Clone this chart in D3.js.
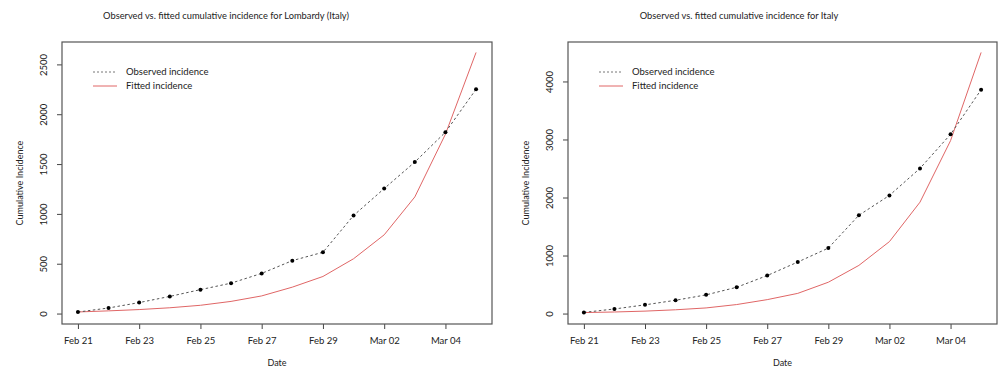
<!DOCTYPE html>
<html>
<head>
<meta charset="utf-8">
<script src="https://cdn.jsdelivr.net/npm/d3@7"></script>
<style>
  body { margin: 0; background: #fff; }
  text { font-family: Lato, "Open Sans", sans-serif; fill: #222; }
</style>
</head>
<body>
<div id="canvas"></div>
<script>
// -------------------------------------------- Data
const dates = ["2020-02-21", "2020-02-22", "2020-02-23", "2020-02-24", "2020-02-25",
  "2020-02-26", "2020-02-27", "2020-02-28", "2020-02-29", "2020-03-01",
  "2020-03-02", "2020-03-03", "2020-03-04", "2020-03-05"];
const tickDates = ["2020-02-21", "2020-02-23", "2020-02-25", "2020-02-27",
  "2020-02-29", "2020-03-02", "2020-03-04"];

const lombardyObserved = [15, 56, 110, 172, 240, 305, 403, 531, 615, 984, 1254, 1520, 1820, 2251];
const lombardyFitted = [16, 27, 40, 58, 83, 122, 177, 265, 372, 550, 790, 1170, 1800, 2620];
const lombardyTicks = [0, 500, 1000, 1500, 2000, 2500];

const italyObserved = [20, 79, 150, 229, 322, 453, 655, 888, 1128, 1694, 2036, 2502, 3089, 3858];
const italyFitted = [17, 27, 42, 65, 97, 155, 240, 348, 540, 830, 1240, 1920, 2980, 4500];
const italyTicks = [0, 1000, 2000, 3000, 4000];

const legendLabels = ["Observed incidence", "Fitted incidence"];

// -------------------------------------------- Lienzo
const width = 1000;
const height = 370;
const parse = d3.timeParse("%Y-%m-%d");

const svg = d3.select("#canvas").append("svg")
  .attr("width", width)
  .attr("height", height);

// ----- one panel, R base graphics look
function panel(opts) {
  const { left, right, top, bottom, observed, fitted, yTicks, title, titleX } = opts;
  const days = dates.map(parse);

  // 4% padding like R
  const x0 = days[0], x1 = days[days.length - 1];
  const span = x1 - x0;
  const x = d3.scaleTime()
    .domain([new Date(+x0 - span * 0.04), new Date(+x1 + span * 0.04)])
    .range([left, right]);

  const ymax = d3.max(observed.concat(fitted));
  const y = d3.scaleLinear()
    .domain([-ymax * 0.04, ymax * 1.04])
    .range([bottom, top]);

  const g = svg.append("g");

  // -- Eje X
  g.append("g")
    .attr("transform", `translate(0,${bottom})`)
    .call(d3.axisBottom(x)
      .tickValues(tickDates.map(parse))
      .tickFormat(d3.timeFormat("%b %d"))
      .tickSizeOuter(0)
      .tickSize(5)
      .tickPadding(8))
    .call(a => a.select(".domain").remove())
    .call(a => a.selectAll("line").attr("stroke", "#444"))
    .call(a => a.selectAll("text").style("font-size", "9.5px").attr("fill", "#222"));

  // -- Eje Y (rotated labels)
  const ya = g.append("g")
    .attr("transform", `translate(${left},0)`)
    .call(d3.axisLeft(y).tickValues(yTicks).tickSize(5).tickFormat(d3.format("d")))
    .call(a => a.select(".domain").remove())
    .call(a => a.selectAll("line").attr("stroke", "#444"));
  ya.selectAll("text")
    .attr("x", null).attr("dy", null)
    .attr("transform", "translate(-15,0) rotate(-90)")
    .attr("text-anchor", "middle")
    .style("font-size", "9.5px")
    .attr("fill", "#222");

  // -- box
  g.append("rect")
    .attr("x", left).attr("y", top)
    .attr("width", right - left).attr("height", bottom - top)
    .attr("fill", "none").attr("stroke", "#555").attr("stroke-width", 1.2);

  // -- fitted
  const line = d3.line().x((d, i) => x(days[i])).y(d => y(d));
  g.append("path")
    .datum(fitted)
    .attr("d", line)
    .attr("fill", "none")
    .attr("stroke", "#e06666")
    .attr("stroke-width", 1);

  // -- observed
  g.append("path")
    .datum(observed)
    .attr("d", line)
    .attr("fill", "none")
    .attr("stroke", "#555")
    .attr("stroke-width", 1)
    .attr("stroke-dasharray", "2.5,2.5");

  g.selectAll(".pt").data(observed).enter()
    .append("circle")
    .attr("class", "pt")
    .attr("cx", (d, i) => x(days[i]))
    .attr("cy", d => y(d))
    .attr("r", 2)
    .attr("fill", "#000");

  // -- legend
  const lg = g.append("g").attr("transform", `translate(${left + 31},${top + 30})`);
  lg.append("line").attr("x1", 0).attr("x2", 24).attr("y1", 0).attr("y2", 0)
    .attr("stroke", "#777").attr("stroke-dasharray", "2,2");
  lg.append("line").attr("x1", 0).attr("x2", 24).attr("y1", 14).attr("y2", 14)
    .attr("stroke", "#e06666");
  lg.selectAll(".lt").data(legendLabels).enter()
    .append("text")
    .attr("x", 33)
    .attr("y", (d, i) => i * 14)
    .attr("dy", "0.35em")
    .style("font-size", "9.5px")
    .text(d => d);

  // -- titulos
  svg.append("text")
    .attr("x", titleX).attr("y", 19)
    .attr("text-anchor", "middle")
    .style("font-size", "9.3px")
    .text(title);

  svg.append("text")
    .attr("x", (left + right) / 2).attr("y", 366)
    .attr("text-anchor", "middle")
    .style("font-size", "9px")
    .text("Date");

  svg.append("text")
    .attr("transform", `translate(${left - 39},${(top + bottom) / 2}) rotate(-90)`)
    .attr("text-anchor", "middle")
    .style("font-size", "9px")
    .text("Cumulative Incidence");
}

panel({
  left: 62, right: 492, top: 42, bottom: 324,
  observed: lombardyObserved, fitted: lombardyFitted, yTicks: lombardyTicks,
  title: "Observed vs. fitted cumulative incidence for Lombardy (Italy)", titleX: 226
});

panel({
  left: 568, right: 997, top: 42, bottom: 324,
  observed: italyObserved, fitted: italyFitted, yTicks: italyTicks,
  title: "Observed vs. fitted cumulative incidence for Italy", titleX: 739
});
</script>
</body>
</html>
